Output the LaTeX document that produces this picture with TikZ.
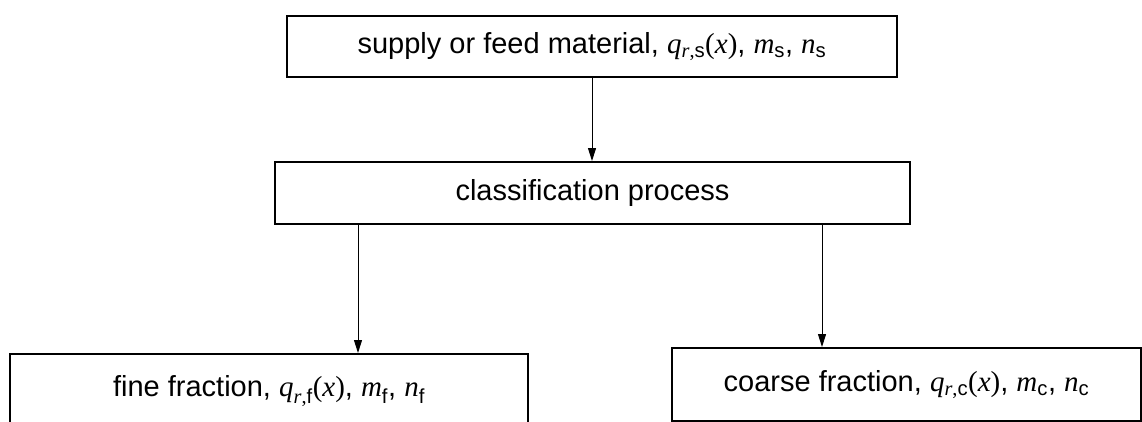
\documentclass[tikz,border=0pt]{standalone}
\usepackage{fontspec}
\setmainfont{Liberation Sans}
\newfontfamily\tms{Liberation Serif}
\usetikzlibrary{arrows.meta}
\newcommand{\iv}[1]{{\tms\itshape #1}}
\newcommand{\sbs}[1]{\textsubscript{#1}}
\begin{document}
\begin{tikzpicture}[x=1pt,y=-1pt,
  box/.style={draw,line width=2pt,inner sep=0pt,anchor=north west,
    font=\fontsize{29}{33}\selectfont},
  conn/.style={line width=1pt,-{Triangle[length=13pt,width=8pt]}}]
\useasboundingbox (0,0) rectangle (1142,421);
\node[box,minimum width=610pt,minimum height=61pt] (top) at (286,15)
  {supply or feed material, \iv{q}\sbs{\iv{r}{\tms,}s}{\tms(}\iv{x}{\tms)}, \iv{m}\sbs{s}, \iv{n}\sbs{s}};
\node[box,minimum width=635pt,minimum height=62pt] (mid) at (274,161)
  {classification process};
\node[box,minimum width=518pt,minimum height=74pt] (fine) at (9,353)
  {fine fraction, \iv{q}\sbs{\iv{r}{\tms,}f}{\tms(}\iv{x}{\tms)}, \iv{m}\sbs{f}, \iv{n}\sbs{f}};
\node[box,minimum width=469pt,minimum height=73pt] (coarse) at (671,347)
  {coarse fraction, \iv{q}\sbs{\iv{r}{\tms,}c}{\tms(}\iv{x}{\tms)}, \iv{m}\sbs{c}, \iv{n}\sbs{c}};
\coordinate (la) at (358,0);
\coordinate (ra) at (822,0);
\draw[conn] (top.south) -- (top.south |- mid.north);
\draw[conn] (mid.south -| la) -- (fine.north -| la);
\draw[conn] (mid.south -| ra) -- (coarse.north -| ra);
\end{tikzpicture}
\end{document}
